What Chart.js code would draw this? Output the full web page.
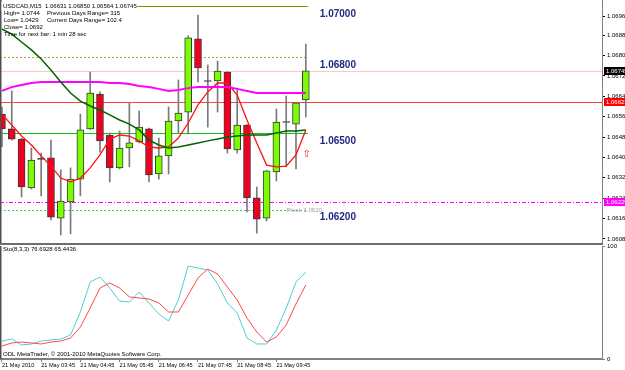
<!DOCTYPE html>
<html>
<head>
<meta charset="utf-8">
<script src="https://cdn.jsdelivr.net/npm/chart.js@4.4.0/dist/chart.umd.min.js"></script>
<style>
  html, body { margin: 0; padding: 0; background: #fff; width: 625px; height: 370px; overflow: hidden; }
  #main { position: absolute; left: 0; top: 0; }
  #sep { position: absolute; left: 0; top: 243px; width: 603px; height: 2px; background: #6e6e6e; }
  #sto { position: absolute; left: 0; top: 241px; }
</style>
</head>
<body>
<canvas id="main" width="625" height="244"></canvas>
<div id="sep"></div>
<canvas id="sto" width="625" height="129"></canvas>
<script>
// USDCAD M15 - 21 May 2010, bars 02:45 .. 10:30
const opens  = [1.06575, 1.06517, 1.06477, 1.06285, 1.06399, 1.06403, 1.06167, 1.06230, 1.06320, 1.06517, 1.06654, 1.06493, 1.06364, 1.06442, 1.06466, 1.06517,
                1.06340, 1.06411, 1.06548, 1.06583, 1.06870, 1.06705, 1.06705, 1.06740, 1.06434, 1.06532, 1.06246, 1.06167, 1.06348, 1.06544, 1.06536, 1.06631];
const highs  = [1.06603, 1.06666, 1.06480, 1.06442, 1.06422, 1.06473, 1.06356, 1.06364, 1.06575, 1.06740, 1.06662, 1.06501, 1.06509, 1.06619, 1.06587, 1.06520,
                1.06481, 1.06603, 1.06709, 1.06882, 1.06964, 1.06768, 1.06783, 1.06742, 1.06677, 1.06534, 1.06289, 1.06354, 1.06595, 1.06646, 1.06621, 1.06850];
const lows   = [1.06446, 1.06473, 1.06250, 1.06281, 1.06254, 1.06160, 1.06101, 1.06105, 1.06254, 1.06515, 1.06426, 1.06309, 1.06360, 1.06368, 1.06462, 1.06309,
                1.06320, 1.06340, 1.06501, 1.06497, 1.06701, 1.06524, 1.06583, 1.06422, 1.06422, 1.06191, 1.06108, 1.06156, 1.06313, 1.06368, 1.06360, 1.06564];
const closes = [1.06517, 1.06477, 1.06289, 1.06395, 1.06399, 1.06171, 1.06234, 1.06320, 1.06513, 1.06658, 1.06470, 1.06364, 1.06442, 1.06462, 1.06524, 1.06336,
                1.06411, 1.06548, 1.06579, 1.06874, 1.06756, 1.06705, 1.06744, 1.06438, 1.06532, 1.06246, 1.06163, 1.06352, 1.06544, 1.06544, 1.06619, 1.06745];

// moving averages
const maSlow = [1.06909, 1.06889, 1.06858, 1.06827, 1.06791, 1.06748, 1.06701, 1.06658, 1.06626, 1.06607, 1.06591, 1.06572, 1.06552, 1.06536, 1.06513, 1.06473,
                1.06454, 1.06442, 1.06446, 1.06454, 1.06462, 1.06470, 1.06477, 1.06485, 1.06489, 1.06493, 1.06493, 1.06493, 1.06501, 1.06509, 1.06509, 1.06513];
const maMid  = [1.06666, 1.06681, 1.06689, 1.06697, 1.06701, 1.06701, 1.06701, 1.06701, 1.06701, 1.06701, 1.06701, 1.06697, 1.06697, 1.06693, 1.06685, 1.06681,
                1.06674, 1.06666, 1.06670, 1.06677, 1.06681, 1.06681, 1.06681, 1.06681, 1.06674, 1.06666, 1.06658, 1.06658, 1.06658, 1.06658, 1.06658, 1.06658];
const maFast = [1.06575, 1.06532, 1.06489, 1.06454, 1.06411, 1.06371, 1.06324, 1.06309, 1.06324, 1.06364, 1.06415, 1.06477, 1.06493, 1.06489, 1.06470, 1.06446,
                1.06442, 1.06446, 1.06481, 1.06540, 1.06611, 1.06662, 1.06697, 1.06697, 1.06650, 1.06552, 1.06462, 1.06375, 1.06368, 1.06371, 1.06415, 1.06513];

// Sto(8,3,3)
const stochMain   = [15.9, 17.7, 12.4, 13.3, 15.9, 16.8, 17.7, 21.2, 41.6, 68.1, 72.6, 62.8, 51.3, 50.4, 59.3, 49.6,
                     39.8, 33.6, 52.2, 82.3, 80.5, 78.8, 66.4, 49.6, 40.7, 18.6, 13.3, 13.3, 25.7, 45.1, 68.1, 76.7];
const stochSignal = [11.5, 14.2, 15.0, 14.2, 13.3, 15.0, 15.9, 18.6, 28.3, 45.1, 62.8, 67.3, 62.8, 54.9, 54.0, 53.1,
                     49.6, 41.6, 41.6, 56.6, 71.7, 79.6, 75.2, 63.7, 52.2, 36.3, 23.9, 15.0, 19.5, 30.1, 48.7, 65.5];

// levels and labels
const roundLevels = [1.07000, 1.06800, 1.06500, 1.06200];
const roundLabels = ['1.07000', '1.06800', '1.06500', '1.06200'];
const bidPrice = 1.06745;
const redLevel = 1.06621;
const magentaLevel = 1.06229;
const pivotText = 'Pivot: 1.0620';
const arrowPrice = 1.06418;

const priceTicks = [1.06960, 1.06885, 1.06805, 1.06725, 1.06645, 1.06565, 1.06485, 1.06405, 1.06325, 1.06245, 1.06165, 1.06085];
const stochTicks = [0, 100];
const timeTickBars = [0, 4, 8, 12, 16, 20, 24, 28];
const timeLabels = ['21 May 2010', '21 May 03:45', '21 May 04:45', '21 May 05:45', '21 May 06:45', '21 May 07:45', '21 May 08:45', '21 May 09:45'];

const headerLines = [
  'USDCAD,M15  1.06631 1.06850 1.06564 1.06745',
  'High= 1.0744', 'Previous Days Range= 315',
  'Low= 1.0429', 'Current Days Range= 102.4',
  'Close= 1.0692',
  'Time for next bar: 1 min 28 sec'
];

Chart.defaults.font.family = '"Liberation Sans", Arial, sans-serif';

const X_MIN = -0.2, X_MAX = 61.22;
const bars = closes.map((_, i) => i);
const lastBar = closes.length - 1;
const toPts = arr => arr.map((v, i) => ({ x: i, y: v }));

function bodyRange(i) {
  const o = opens[i], c = closes[i];
  if (Math.abs(c - o) < 0.00003) { const m = (o + c) / 2; return [m - 0.00002, m + 0.00002]; }
  return [Math.min(o, c), Math.max(o, c)];
}
function bodyColor(i) {
  const o = opens[i], c = closes[i];
  if (Math.abs(c - o) < 0.00003) return '#303030';
  return c > o ? '#7cfc00' : '#f00020';
}

const mainOverlay = {
  id: 'mainOverlay',
  beforeDatasetsDraw(chart) {
    const { ctx, chartArea: a, scales: { x, y } } = chart;
    const xEnd = x.getPixelForValue(lastBar) + 2;
    const hline = (price, x0, x1, color, dash) => {
      const py = Math.round(y.getPixelForValue(price)) + 0.5;
      ctx.strokeStyle = color; ctx.lineWidth = 1; ctx.setLineDash(dash);
      ctx.beginPath(); ctx.moveTo(x0, py); ctx.lineTo(x1, py); ctx.stroke();
    };
    ctx.save();
    ctx.beginPath(); ctx.rect(a.left, a.top, a.right - a.left, a.bottom - a.top); ctx.clip();
    hline(bidPrice, a.left, a.right, '#ffc4cc', []);
    hline(redLevel, a.left, a.right, '#ff4040', []);
    hline(magentaLevel, a.left, a.right, '#ff00ff', [4, 2, 1, 2]);
    hline(roundLevels[0], a.left, xEnd, '#8a8a00', []);
    hline(roundLevels[1], a.left, xEnd, '#b4a040', [2, 2]);
    hline(roundLevels[2], a.left, xEnd, '#10c010', []);
    hline(roundLevels[3], a.left, xEnd, '#60c060', [2, 2]);
    ctx.restore();
  },
  afterDraw(chart) {
    const { ctx, chartArea: a, scales: { x, y } } = chart;
    ctx.save();
    // left border
    ctx.fillStyle = '#505050';
    ctx.fillRect(a.left, a.top, 1.5, a.bottom - a.top);

    // round number labels
    ctx.font = 'bold 10px "Liberation Sans", Arial, sans-serif';
    ctx.fillStyle = '#1f2a80';
    ctx.textBaseline = 'middle';
    ctx.textAlign = 'left';
    roundLevels.forEach((lv, i) => {
      ctx.fillText(roundLabels[i], x.getPixelForValue(lastBar) + 14, y.getPixelForValue(lv) + 8);
    });

    // pivot text
    ctx.font = '6px "Liberation Sans", Arial, sans-serif';
    ctx.fillStyle = '#a0a0a0';
    ctx.fillText(pivotText, x.getPixelForValue(lastBar) - 19, y.getPixelForValue(roundLevels[3]) + 0.5);

    // arrow under last bar
    ctx.font = '10px "DejaVu Sans", sans-serif';
    ctx.fillStyle = '#ff2020';
    ctx.textAlign = 'center';
    ctx.fillText('\u21E7', x.getPixelForValue(lastBar) + 1, y.getPixelForValue(arrowPrice));

    // header
    ctx.textAlign = 'left';
    ctx.font = '6px "Liberation Sans", Arial, sans-serif';
    const w0 = ctx.measureText(headerLines[0]).width;
    ctx.fillStyle = '#ffffff';
    ctx.fillRect(1.5, 2, w0 + 2, 9);
    ctx.fillStyle = '#000000';
    ctx.fillText(headerLines[0], 3, 6.5);
    ctx.fillText(headerLines[1], 4, 13.5);
    ctx.fillText(headerLines[2], 47, 13.5);
    ctx.fillText(headerLines[3], 4, 20.5);
    ctx.fillText(headerLines[4], 47, 20.5);
    ctx.fillText(headerLines[5], 4, 27.5);
    ctx.fillText(headerLines[6], 4, 34.5);

    // price markers on the axis
    const markers = [[bidPrice, '#000000'], [redLevel, '#ff0000'], [magentaLevel, '#ff00ff']];
    ctx.font = '6px "Liberation Sans", Arial, sans-serif';
    markers.forEach(([p, c]) => {
      const py = Math.round(y.getPixelForValue(p));
      ctx.fillStyle = c;
      ctx.fillRect(a.right + 2, py - 4, 23, 8);
      ctx.fillStyle = '#ffffff';
      ctx.fillText(p.toFixed(5), a.right + 4, py + 0.5);
    });
    ctx.restore();
  }
};

new Chart(document.getElementById('main'), {
  type: 'bar',
  data: {
    datasets: [
      { type: 'line', data: toPts(maSlow), borderColor: '#006400', borderWidth: 1.5, pointRadius: 0, order: 1 },
      { type: 'line', data: toPts(maMid), borderColor: '#ff00ff', borderWidth: 2, pointRadius: 0, order: 1 },
      { type: 'line', data: toPts(maFast), borderColor: '#ff1010', borderWidth: 1.3, pointRadius: 0, order: 1 },
      { data: bars.map(i => ({ x: i, y: bodyRange(i) })), backgroundColor: bars.map(bodyColor), borderColor: '#3a3a3a',
        borderWidth: 1, borderSkipped: false, barThickness: 7, grouped: false, order: 3 },
      { data: bars.map(i => ({ x: i, y: [lows[i], highs[i]] })), backgroundColor: '#7a7a7a',
        borderWidth: 0, barThickness: 1, grouped: false, order: 4 }
    ]
  },
  options: {
    responsive: false,
    animation: false,
    devicePixelRatio: 1,
    layout: { padding: 0 },
    plugins: { legend: { display: false }, tooltip: { enabled: false } },
    scales: {
      x: { type: 'linear', min: X_MIN, max: X_MAX, offset: false, display: false },
      y: {
        position: 'right', min: 1.060653, max: 1.070228,
        afterBuildTicks: s => { s.ticks = priceTicks.map(v => ({ value: v })); },
        afterFit: s => { s.width = 23; s.paddingTop = 0; s.paddingBottom = 0; },
        ticks: { padding: 2, color: '#000', font: { size: 6 }, callback: v => Number(v).toFixed(5) },
        grid: { drawOnChartArea: false, tickLength: 3, color: '#000' },
        border: { color: '#808080', width: 1 }
      }
    }
  },
  plugins: [mainOverlay]
});

const stoOverlay = {
  id: 'stoOverlay',
  afterDraw(chart) {
    const { ctx, chartArea: a } = chart;
    ctx.save();
    ctx.fillStyle = '#505050';
    ctx.fillRect(a.left, a.top, 1.5, a.bottom - a.top);
    ctx.font = '6px "Liberation Sans", Arial, sans-serif';
    ctx.fillStyle = '#000';
    ctx.textBaseline = 'middle';
    ctx.fillText('Sto(8,3,3) 76.6928 65.4436', 3, a.top + 3);
    ctx.fillText('ODL MetaTrader, \u00A9 2001-2010 MetaQuotes Software Corp.', 3, a.bottom - 5);
    ctx.restore();
  }
};

new Chart(document.getElementById('sto'), {
  type: 'line',
  data: {
    datasets: [
      { data: toPts(stochSignal), borderColor: '#ff4848', borderWidth: 1, pointRadius: 0 },
      { data: toPts(stochMain), borderColor: '#4fcfd0', borderWidth: 1, pointRadius: 0 }
    ]
  },
  options: {
    responsive: false,
    animation: false,
    devicePixelRatio: 1,
    layout: { padding: { top: 5 } },
    plugins: { legend: { display: false }, tooltip: { enabled: false } },
    scales: {
      x: {
        type: 'linear', min: X_MIN, max: X_MAX, offset: false,
        afterBuildTicks: s => { s.ticks = timeTickBars.map(v => ({ value: v })); },
        afterFit: s => { s.height = 11; s.paddingLeft = 0; s.paddingRight = 0; },
        ticks: { autoSkip: false, maxRotation: 0, align: 'start', padding: 0, color: '#000', font: { size: 5.6 },
                 callback: (v, i) => timeLabels[i] },
        grid: { drawOnChartArea: false, tickLength: 3, color: '#808080' },
        border: { color: '#808080', width: 2 }
      },
      y: {
        position: 'right', min: 0, max: 100,
        afterBuildTicks: s => { s.ticks = stochTicks.map(v => ({ value: v })); },
        afterFit: s => { s.width = 23; s.paddingTop = 0; s.paddingBottom = 0; },
        ticks: { padding: 2, color: '#000', font: { size: 6 } },
        grid: { drawOnChartArea: false, tickLength: 3, color: '#808080' },
        border: { color: '#808080', width: 1 }
      }
    }
  },
  plugins: [stoOverlay]
});
</script>
</body>
</html>
